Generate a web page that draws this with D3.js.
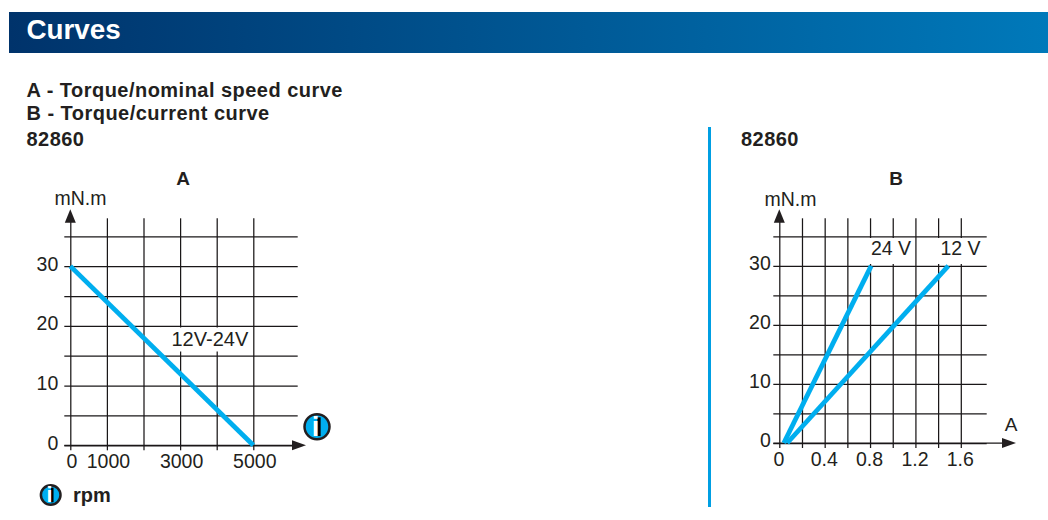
<!DOCTYPE html>
<html>
<head>
<meta charset="utf-8">
<script src="https://cdnjs.cloudflare.com/ajax/libs/d3/7.8.5/d3.min.js"></script>
<style>
  html, body { margin: 0; padding: 0; background: #fff; }
  svg { display: block; }
  text { font-family: "Liberation Sans", Arial, sans-serif; fill: #231f20; }
  .tick text { font-size: 19.5px; }
  .tick line { stroke: #1a1718; stroke-width: 1.25; }
  .head { font-weight: bold; font-size: 20px; letter-spacing: 0.47px; }
  .unit { font-size: 19.5px; }
</style>
</head>
<body>
<script>
var headerLines = ["A - Torque/nominal speed curve", "B - Torque/current curve"];
var modelName = "82860";

var yTicks = [0, 5, 10, 15, 20, 25, 30, 35];
var yLabels = [0, 10, 20, 30];

var speedTicks = [0, 1000, 2000, 3000, 4000, 5000];
var speedLabels = [0, 1000, 3000, 5000];
var speedCurve = [[0, 30], [5000, 0]];

var currentTicks = [0, 0.2, 0.4, 0.6, 0.8, 1.0, 1.2, 1.4, 1.6];
var currentLabels = [0, 0.4, 0.8, 1.2, 1.6];
var curve24V = [[0.04, 0], [0.81, 30]];
var curve12V = [[0.07, 0], [1.49, 30]];

var svg = d3.select("body").append("svg").attr("width", 1048).attr("height", 520);

// header band
var grad = svg.append("defs").append("linearGradient").attr("id", "band");
grad.append("stop").attr("offset", "0%").attr("stop-color", "#00336b");
grad.append("stop").attr("offset", "100%").attr("stop-color", "#0079ba");
svg.append("rect").attr("x", 9).attr("y", 12).attr("width", 1039).attr("height", 41).attr("fill", "url(#band)");
svg.append("text").attr("x", 26.5).attr("y", 39).attr("font-size", 27.8).attr("font-weight", "bold").style("fill", "#fff").text("Curves");

svg.append("text").attr("class", "head").attr("x", 26.5).attr("y", 97).text(headerLines[0]);
svg.append("text").attr("class", "head").attr("x", 26.5).attr("y", 120).text(headerLines[1]);
svg.append("text").attr("class", "head").attr("x", 26.5).attr("y", 146).text(modelName);
svg.append("text").attr("class", "head").attr("x", 741).attr("y", 146).text(modelName);

// separator
svg.append("rect").attr("x", 708).attr("y", 127).attr("width", 3).attr("height", 380).attr("fill", "#009fe3");

var yA = d3.scaleLinear().domain([0, 35]).range([445.3, 236.3]);
var xA = d3.scaleLinear().domain([0, 5000]).range([70.3, 253.3]);
var yB = d3.scaleLinear().domain([0, 35]).range([443, 236.3]);
var xB = d3.scaleLinear().domain([0, 1.6]).range([779.3, 960.8]);

function drawFrame(x, y, xTicks, xLabels, xFmt, gridRight, arrowEnd, yLabelGap, xLabelShift) {
  var g = svg.append("g");
  var x0 = x(0), y0 = y(0);
  var top = y(35) - 18;

  var gx = g.append("g").attr("transform", "translate(0," + y0 + ")")
    .call(d3.axisBottom(x).tickValues(xTicks).tickSizeOuter(0)
      .tickFormat(d => xLabels.includes(d) ? xFmt(d) : ""));
  gx.select(".domain").remove();
  gx.selectAll(".tick line").attr("y1", top - y0).attr("y2", 5);
  gx.selectAll(".tick text").attr("x", xLabelShift).attr("y", 9).attr("dy", "0.71em");

  var gy = g.append("g").attr("transform", "translate(" + x0 + ",0)")
    .call(d3.axisLeft(y).tickValues(yTicks).tickSizeOuter(0)
      .tickFormat(d => yLabels.includes(d) ? d : ""));
  gy.select(".domain").remove();
  gy.selectAll(".tick line").attr("x1", -6).attr("x2", gridRight - x0);
  gy.selectAll(".tick text").attr("x", -yLabelGap).attr("dy", "0.2em");

  // x axis runs on to its arrow
  g.append("line").attr("x1", x0 - 6).attr("x2", arrowEnd - 10).attr("y1", y0).attr("y2", y0)
    .attr("stroke", "#1a1718").attr("stroke-width", 1.25);
  g.append("path").attr("fill", "#231f20")
    .attr("d", "M" + arrowEnd + "," + y0 + "l-14,-5v10z");
  g.append("path").attr("fill", "#231f20")
    .attr("d", "M" + x0 + "," + (top - 9) + "l-5.5,13.5h11z");
  return g;
}

function drawCurve(x, y, pts) {
  svg.append("path").datum(pts)
    .attr("fill", "none").attr("stroke", "#00aeef").attr("stroke-width", 4.8)
    .attr("d", d3.line().x(d => x(d[0])).y(d => y(d[1])));
}

// label on a white patch that cuts the grid lines behind it
function label(px, py, str, size, patch) {
  svg.append("rect").attr("x", patch[0]).attr("y", patch[1]).attr("width", patch[2]).attr("height", patch[3]).attr("fill", "#fff");
  return svg.append("text").attr("x", px).attr("y", py).attr("font-size", size).text(str);
}

function infoIcon(cx, cy, r) {
  var g = svg.append("g");
  g.append("circle").attr("cx", cx).attr("cy", cy).attr("r", r).attr("fill", "#00aeef").attr("stroke", "#231f20").attr("stroke-width", 2.5);
  g.append("rect").attr("x", cx + 0.03 * r).attr("y", cy - 0.75 * r).attr("width", 0.26 * r).attr("height", 1.5 * r).attr("fill", "#000");
  g.append("text").attr("x", cx - 0.12 * r).attr("y", cy + 0.75 * r).attr("text-anchor", "middle")
    .attr("font-size", r * 2.2).attr("font-weight", "bold").style("fill", "#fff").text("i");
}

// chart A
drawFrame(xA, yA, speedTicks, speedLabels, d => d, 297.7, 306, 12, 1);
drawCurve(xA, yA, speedCurve);
label(171.5, 346, "12V-24V", 20, [170, 327.5, 80, 24]);
svg.append("text").attr("x", 183).attr("y", 185).attr("text-anchor", "middle").attr("font-size", 19).attr("font-weight", "bold").text("A");
svg.append("text").attr("class", "unit").attr("x", 80.5).attr("y", 205).attr("text-anchor", "middle").text("mN.m");
infoIcon(317, 426.7, 12.5);
infoIcon(50.7, 495, 9.8);
svg.append("text").attr("x", 73).attr("y", 502).attr("font-size", 20).attr("font-weight", "bold").text("rpm");

// chart B
drawFrame(xB, yB, currentTicks, currentLabels, d => d === 0 ? "0" : d3.format(".1f")(d), 986.7, 1016, 8.5, -1);
drawCurve(xB, yB, curve24V);
drawCurve(xB, yB, curve12V);
label(871, 254.5, "24 V", 19.5, [869, 238, 45, 26]);
label(940.5, 254.5, "12 V", 19.5, [936, 238, 45, 26]);
svg.append("text").attr("x", 896).attr("y", 185).attr("text-anchor", "middle").attr("font-size", 19).attr("font-weight", "bold").text("B");
svg.append("text").attr("class", "unit").attr("x", 790.5).attr("y", 206).attr("text-anchor", "middle").text("mN.m");
svg.append("text").attr("x", 1011).attr("y", 431).attr("text-anchor", "middle").attr("font-size", 19).text("A");
</script>
</body>
</html>
